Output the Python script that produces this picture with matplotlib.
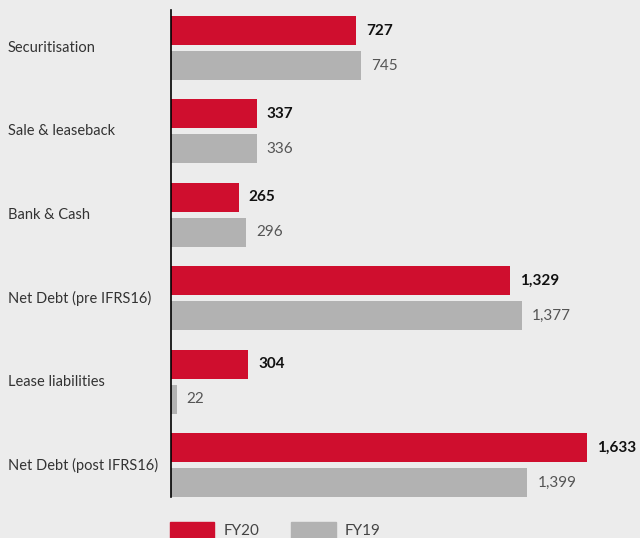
import numpy as np
import matplotlib.pyplot as plt
from matplotlib.patches import Patch

categories = ['Securitisation', 'Sale & leaseback', 'Bank & Cash',
              'Net Debt (pre IFRS16)', 'Lease liabilities', 'Net Debt (post IFRS16)']
fy20 = [727, 337, 265, 1329, 304, 1633]
fy19 = [745, 336, 296, 1377, 22, 1399]

RED = '#cf0e2e'
GREY = '#b2b2b2'
BG = '#ececec'

plt.rcParams['font.family'] = ['Lato', 'DejaVu Sans']

fig = plt.figure(figsize=(6.4, 5.38), dpi=100, facecolor=BG)
# axes: left edge at the black axis line, 10px to 497px from the top
ax = fig.add_axes([171 / 640, 1 - 497 / 538, 1 - 171 / 640, 487 / 538])
ax.set_facecolor(BG)

y = np.arange(len(categories))
h = 0.348
off = 0.21
ax.barh(y - off, fy20, height=h, color=RED)
ax.barh(y + off, fy19, height=h, color=GREY)

px = 1633 / 416  # data units per pixel
for i in range(len(categories)):
    ax.text(fy20[i] + 10 * px, y[i] - off, f'{fy20[i]:,}', va='center', ha='left',
            fontsize=11, fontweight='bold', color='#111111')
    ax.text(fy19[i] + 10 * px, y[i] + off, f'{fy19[i]:,}', va='center', ha='left',
            fontsize=11, color='#555555')
    fig.text(8 / 640, 1 - (48 + 83.4 * i) / 538, categories[i], va='center', ha='left',
             fontsize=10.5, color='#333333')

ax.set_ylim(5.384, -0.456)
ax.set_xlim(0, 469 * px)
for s in ['top', 'right', 'bottom']:
    ax.spines[s].set_visible(False)
ax.spines['left'].set_color('black')
ax.spines['left'].set_linewidth(1.2)
ax.set_xticks([])
ax.set_yticks([])

leg = fig.legend(handles=[Patch(color=RED, label='FY20'), Patch(color=GREY, label='FY19')],
                 loc='lower left', bbox_to_anchor=(170 / 640, 0), ncol=2,
                 frameon=False, fontsize=11, handlelength=2.9, handleheight=1.2,
                 columnspacing=2.1, handletextpad=0.6, borderpad=0, borderaxespad=0)
for t in leg.get_texts():
    t.set_color('#444444')

fig.savefig('out.png', dpi=100, facecolor=BG)
